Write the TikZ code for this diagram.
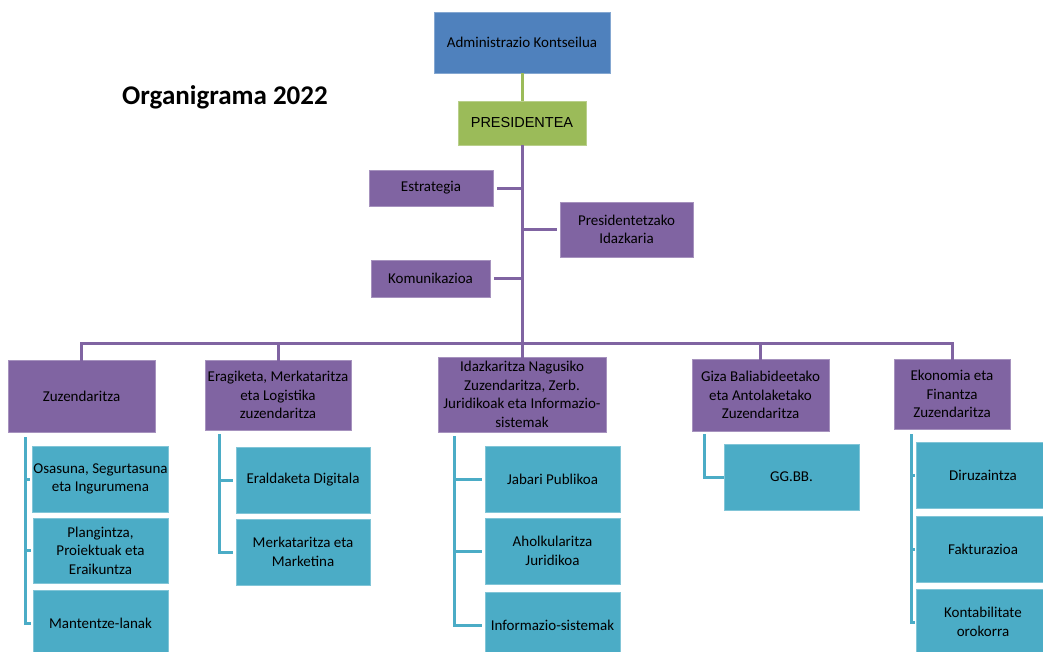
\documentclass[tikz,border=0pt]{standalone}
\usepackage{fontspec}
\setmainfont{Carlito}
\newfontfamily\arialf{Liberation Sans}
\definecolor{cblue}{HTML}{4F81BD}
\definecolor{cgreen}{HTML}{9BBB59}
\definecolor{cpurple}{HTML}{8064A2}
\definecolor{cteal}{HTML}{4BACC6}
\begin{document}
\begin{tikzpicture}[x=1pt,y=-1pt,
  basebox/.style={rectangle, inner sep=1pt, align=center, text=black, line width=0.6pt,
    font=\fontsize{15}{18.5}\selectfont},
  sz/.style 2 args={minimum width=#1, minimum height=#2},
  bbox/.style={basebox, fill=cblue, draw=cblue!70!white},
  gbox/.style={basebox, fill=cgreen, draw=cgreen!70!white, font=\arialf\fontsize{14.5}{18}\selectfont},
  pbox/.style={basebox, fill=cpurple, draw=cpurple!70!white},
  tbox/.style={basebox, fill=cteal, draw=cteal!70!white},
  pline/.style={draw=cpurple, line width=3pt},
  tline/.style={draw=cteal, line width=3pt},
  gline/.style={draw=cgreen, line width=3pt}]
\useasboundingbox (0,0) rectangle (1043,651);
\fill[white] (0,0) rectangle (1043,651);
\clip (0,0) rectangle (1043,651);

\node[font=\bfseries\fontsize{27}{30}\selectfont] (title) at (225,97) {Organigrama 2022};

\node[bbox, sz={176}{61}] (admin) at (522,42.5) {Administrazio Kontseilua};
\node[gbox, sz={128}{44}] (pres) at (522,123) {PRESIDENTEA};
\node[pbox, sz={124}{36}] (estr) at (431,188) {Estrategia};
\node[pbox, sz={133}{55}] (presid) at (626.5,229.5) {Presidentetzako\\Idazkaria};
\node[pbox, sz={119}{37}] (komu) at (430.5,278.5) {Komunikazioa};

\node[pbox, sz={147}{72}] (zuz) at (81.5,396) {Zuzendaritza};
\node[pbox, sz={146}{70}] (erag) at (278,395) {Eragiketa, Merkataritza\\eta Logistika\\zuzendaritza};
\node[pbox, sz={168}{75}] (idaz) at (522,394.5) {Idazkaritza Nagusiko\\Zuzendaritza, Zerb.\\Juridikoak eta Informazio-\\sistemak};
\node[pbox, sz={137}{72}] (giza) at (760.5,395) {Giza Baliabideetako\\eta Antolaketako\\Zuzendaritza};
\node[pbox, sz={116}{70}] (eko) at (952,394) {Ekonomia eta\\Finantza\\Zuzendaritza};

\node[tbox, sz={135}{66}] (osa) at (100.5,479) {Osasuna, Segurtasuna\\eta Ingurumena};
\node[tbox, sz={135}{65}] (plan) at (100.5,550.5) {Plangintza,\\Proiektuak eta\\Eraikuntza};
\node[tbox, sz={135}{66}] (man) at (100.5,623) {Mantentze-lanak};

\node[tbox, sz={134}{66}] (eral) at (303,480) {Eraldaketa Digitala};
\node[tbox, sz={134}{66}] (merk) at (303,552) {Merkataritza eta\\Marketina};

\node[tbox, sz={135}{66}] (jab) at (552.5,479) {Jabari Publikoa};
\node[tbox, sz={135}{66}] (ahol) at (552.5,551) {Aholkularitza\\Juridikoa};
\node[tbox, sz={135}{66}] (info) at (552.5,625) {Informazio-sistemak};

\node[tbox, sz={135}{66}] (gg) at (791.5,477) {GG.BB.};

\node[tbox, sz={134}{66}] (diru) at (983,475) {Diruzaintza};
\node[tbox, sz={134}{66}] (fakt) at (983,549) {Fakturazioa};
\node[tbox, sz={134}{66}] (kont) at (983,622) {Kontabilitate\\orokorra};

% top connectors
\draw[gline] (admin.south) -- (pres.north);
\coordinate (bus) at (522,343);
\draw[pline] (pres.south) -- (bus);
\draw[pline] ([xshift=4pt]estr.east) -- (estr.east -| bus);
\draw[pline] ([xshift=-3pt]presid.west) -- (presid.west -| bus);
\draw[pline] ([xshift=4pt]komu.east) -- (komu.east -| bus);
\draw[pline] ([yshift=-2pt]zuz.north) -- (zuz.north |- bus) -- (eko.north |- bus) -- ([yshift=-2pt]eko.north);
\draw[pline] ([yshift=-2pt]erag.north) -- (erag.north |- bus);
\draw[pline] ([yshift=-1pt]idaz.north) -- (idaz.north |- bus);
\draw[pline] ([yshift=-2pt]giza.north) -- (giza.north |- bus);

% sub connectors
\coordinate (zv) at (25,437);
\draw[tline] (zv) |- ([xshift=-2pt]man.west);
\draw[tline] (zv |- osa.west) -- ([xshift=-2pt]osa.west);
\draw[tline] (zv |- plan.west) -- ([xshift=-2pt]plan.west);

\coordinate (ev) at (219,434);
\draw[tline] (ev) |- ([xshift=-3pt]merk.west);
\draw[tline] (ev |- eral.west) -- ([xshift=-3pt]eral.west);

\coordinate (iv) at (454,436);
\draw[tline] (iv) |- ([xshift=-3pt]info.west);
\draw[tline] (iv |- jab.west) -- ([xshift=-3pt]jab.west);
\draw[tline] (iv |- ahol.west) -- ([xshift=-3pt]ahol.west);

\coordinate (gv) at (704,434);
\draw[tline] (gv) |- (gg.west);

\coordinate (kv) at (911,434);
\draw[tline] (kv) |- ([xshift=-1pt]kont.west);
\draw[tline] (kv |- diru.west) -- ([xshift=-1pt]diru.west);
\draw[tline] (kv |- fakt.west) -- ([xshift=-1pt]fakt.west);
\end{tikzpicture}
\end{document}
